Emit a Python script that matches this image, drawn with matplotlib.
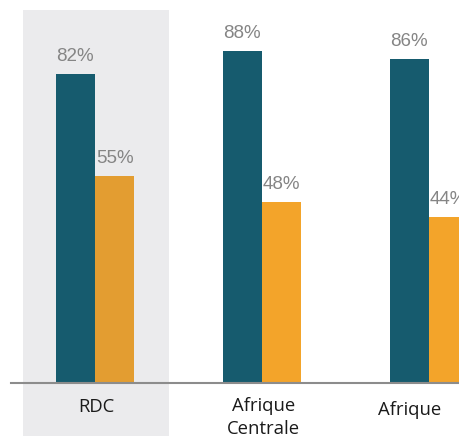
import matplotlib
matplotlib.use("Agg")
import matplotlib.pyplot as plt
from matplotlib.patches import Rectangle
from matplotlib.transforms import blended_transform_factory
import numpy as np

# Data
categories = ["RDC", "Afrique\nCentrale", "Afrique"]
serie_1 = [82, 88, 86]
serie_2 = [55, 48, 44]

BLUE = "#165B6E"
ORANGE = "#F3A42A"
ORANGE_HL = "#E39D31"
SHADE = "#EBEBED"
LABEL_GRAY = "#858585"

W, H, DPI = 460, 436, 100
fig = plt.figure(figsize=(W / DPI, H / DPI), dpi=DPI)

# Axes: left edge at the start of the baseline, running off the right edge
ax_left = 11 / W
ax_bottom = 53 / H
ax_height = 377 / H
ax = fig.add_axes([ax_left, ax_bottom, 1.2, ax_height])
ax.set_zorder(2)
ax.patch.set_alpha(0)

x = np.arange(len(categories))
width = 0.2365
xmin = -0.503
xmax = xmin + (1.2 * W) / 167.0
ax.set_xlim(xmin, xmax)
ax.set_ylim(0, 100)

# Highlight band behind the first group, reaching down through the label area
trans = blended_transform_factory(ax.transData, fig.transFigure)
band = Rectangle((-0.431, 0), 0.874, 1 - 10 / H, transform=trans,
                 facecolor=SHADE, edgecolor="none", zorder=0, figure=fig)
fig.patches.append(band)

c2 = [ORANGE_HL if i == 0 else ORANGE for i in range(len(categories))]
b1 = ax.bar(x - width / 2, serie_1, width, color=BLUE, zorder=2)
b2 = ax.bar(x + width / 2, serie_2, width, color=c2, zorder=2)

for bars, vals in ((b1, serie_1), (b2, serie_2)):
    for rect, v in zip(bars, vals):
        ax.annotate(f"{v}%", (rect.get_x() + rect.get_width() / 2, v),
                    xytext=(0, 9), textcoords="offset pixels",
                    ha="center", va="bottom", fontsize=13.5,
                    color=LABEL_GRAY, family="Liberation Sans")

for s in ("top", "right", "left"):
    ax.spines[s].set_visible(False)
ax.spines["bottom"].set_color("#8C8C8C")
ax.spines["bottom"].set_linewidth(1.5)
ax.set_yticks([])
ax.set_xticks([])

# Category labels
label_x = [0.01, 1.01, 1.886]
label_y = [407, 417.5, 410]
for lx, ly, txt in zip(label_x, label_y, categories):
    ax.text(lx, 1 - ly / H, txt, transform=trans, ha="center", va="center",
            fontsize=13.3, family="Open Sans", linespacing=1.3, color="#1A1A1A")

fig.savefig("out.png", dpi=DPI)
